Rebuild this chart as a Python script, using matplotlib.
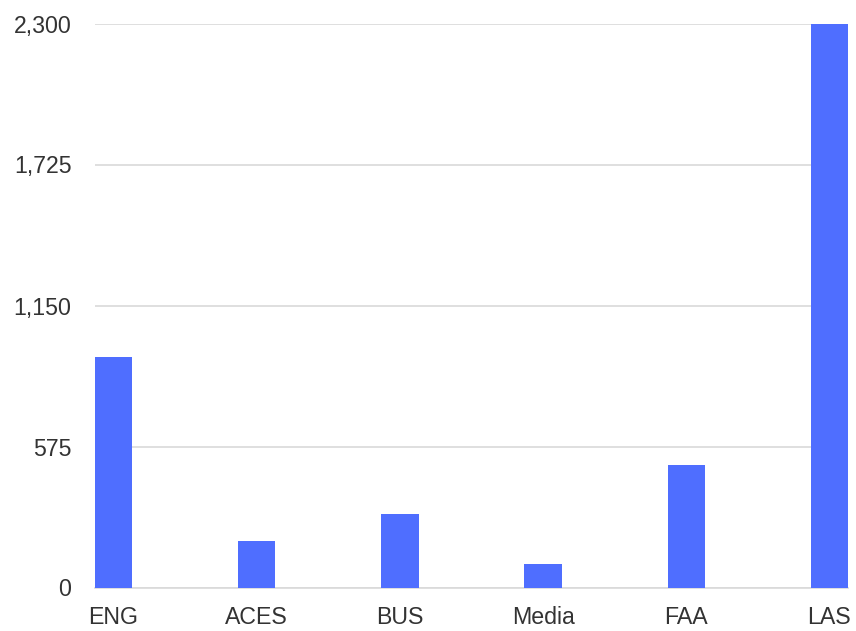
import matplotlib.pyplot as plt

# Data
categories = ['ENG', 'ACES', 'BUS', 'Media', 'FAA', 'LAS']
values = [940, 190, 300, 97, 498, 2300]
y_ticks = [0, 575, 1150, 1725, 2300]

plt.rcParams['font.family'] = ['Liberation Sans', 'DejaVu Sans']

fig = plt.figure(figsize=(8.56, 6.31), dpi=100)
ax = fig.add_axes([95 / 856, 1 - 587.5 / 631, (848 - 95) / 856, (587.5 - 23.5) / 631])

x = range(len(categories))
ax.bar(x, values, width=0.26, color='#4F6EFF', zorder=3)

ax.set_xlim(-0.13, len(categories) - 1 + 0.13)
ax.set_ylim(0, 2300)
ax.set_yticks(y_ticks)
ax.set_yticklabels([f'{v:,}' for v in y_ticks])
ax.set_xticks(list(x))
ax.set_xticklabels(categories)

ax.grid(axis='y', color='#d9d9d9', linewidth=1.2, zorder=0)
for s in ['top', 'right', 'left']:
    ax.spines[s].set_visible(False)
ax.spines['bottom'].set_color('#d9d9d9')
ax.spines['bottom'].set_linewidth(1.2)
ax.tick_params(axis='y', length=0, pad=17, labelsize=16.7, labelcolor='#333333')
ax.tick_params(axis='x', length=0, pad=13, labelsize=16.7, labelcolor='#333333')

fig.savefig('out.png', dpi=100)
